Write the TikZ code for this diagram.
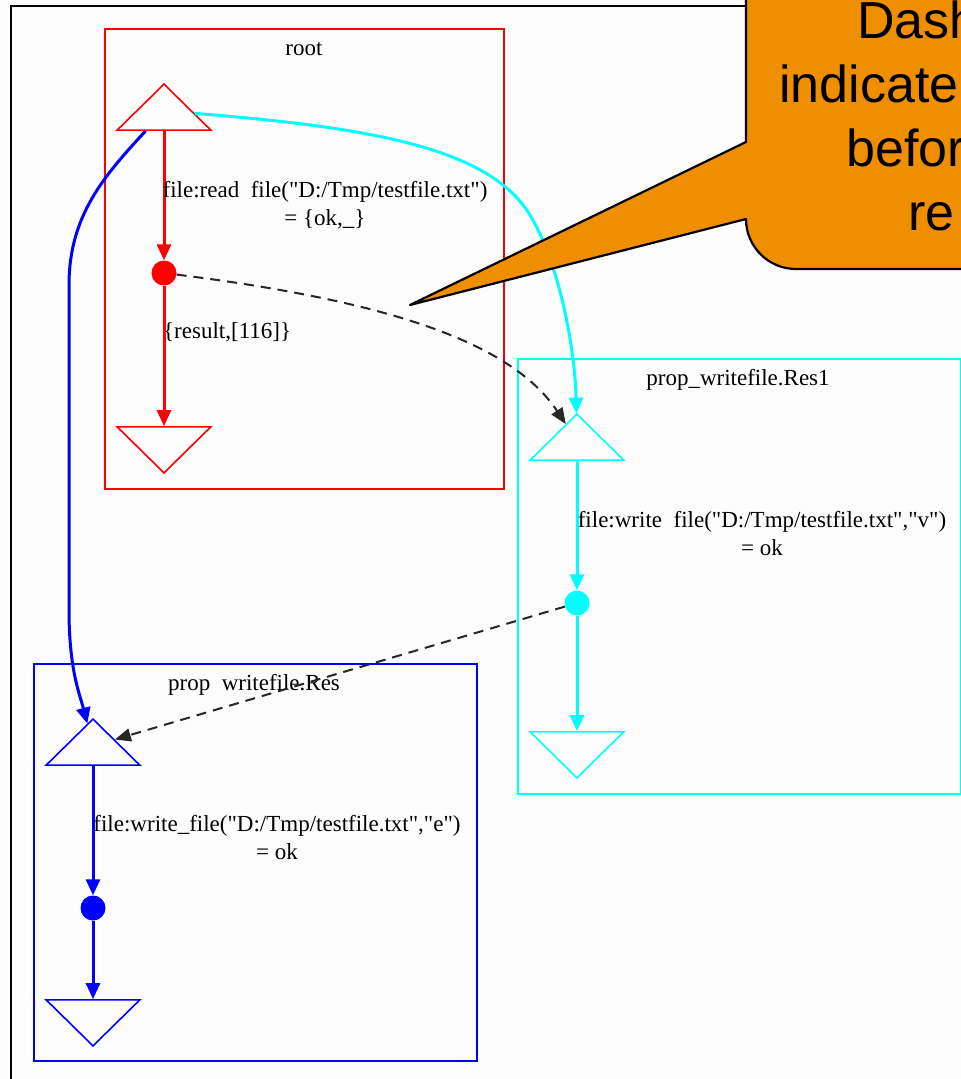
\documentclass[tikz,border=0pt]{standalone}
\usepackage{fontspec}
\setmainfont{Liberation Serif}[Ligatures=TeXOff]
\newfontfamily\notefont{Liberation Sans}
\usetikzlibrary{shapes.geometric,arrows.meta}
\definecolor{noteorange}{RGB}{239,143,0}
\definecolor{paper}{RGB}{251,252,251}
\definecolor{procred}{RGB}{255,0,0}
\definecolor{proccyan}{RGB}{0,255,255}
\definecolor{procblue}{RGB}{0,0,255}

\begin{document}
\begin{tikzpicture}[x=1pt, y=-1pt,
    uptri/.style={draw=#1, line width=1.6pt, isosceles triangle, isosceles triangle apex angle=91,
      shape border rotate=90, inner sep=0pt, minimum size=46pt, anchor=apex},
    downtri/.style={uptri=#1, shape border rotate=270},
    event/.style={circle, fill=#1, inner sep=0pt, minimum size=25pt},
    flow/.style={draw=#1, line width=3pt, -{Triangle[length=16pt,width=14pt]}},
    waitfor/.style={draw=black!85, line width=2pt, dash pattern=on 10pt off 7pt,
      -{Triangle[length=16pt,width=13pt]}},
    cluster/.style={draw=#1, line width=1.6pt, inner sep=0pt, anchor=north west},
    lbl/.style={font=\fontsize{23}{28}\selectfont, inner sep=0pt, align=center},
    notetext/.style={font=\notefont\fontsize{52}{64}\selectfont, inner sep=0pt, anchor=base west},
  ]
    \path[use as bounding box, fill=paper] (0,0) rectangle (961,1079);
    \clip (0,0) rectangle (961,1079);
    \draw[line width=2.5pt] (11,1090) -- (11,6) -- (975,6);

    % clusters
    \node[cluster=procred, minimum width=399pt, minimum height=460pt] (rootbox) at (104,28) {};
    \node[cluster=proccyan, minimum width=443pt, minimum height=435pt] (res1box) at (517,358) {};
    \node[cluster=procblue, minimum width=443pt, minimum height=397pt] (resbox) at (33,663) {};
    \node[lbl] (roottitle) at (304,49) {root};
    \node[lbl] (res1title) at (738,380) {prop\_writefile.Res1};
    \node[lbl] (restitle) at (254,685) {prop\ \ writefile.Res};

    % processes
    \node[uptri=procred] (rtop) at (164,83) {};
    \node[event=procred] (rread) at (164,273) {};
    \node[downtri=procred] (rbot) at (164,474) {};
    \node[uptri=proccyan] (ctop) at (577,413) {};
    \node[event=proccyan] (cwrite) at (577,603) {};
    \node[downtri=proccyan] (cbot) at (577,779) {};
    \node[uptri=procblue] (btop) at (93,718) {};
    \node[event=procblue] (bwrite) at (93,908) {};
    \node[downtri=procblue] (bbot) at (93,1047) {};

    \draw[flow=procred] (rtop) -- (rread);
    \draw[flow=procred] (rread) -- (rbot);
    \draw[flow=proccyan] (ctop) -- (cwrite);
    \draw[flow=proccyan] (cwrite) -- (cbot);
    \draw[flow=procblue] (btop) -- (bwrite);
    \draw[flow=procblue] (bwrite) -- (bbot);

    \node[lbl] (readlbl) at (325,205) {file:read\ \ file("D:/Tmp/testfile.txt")\\= \{ok,\_\}};
    \node[lbl, anchor=west] (resultlbl) at (163,332) {\{result,[116]\}};
    \node[lbl] (writevlbl) at (762,534) {file:write\ \ file("D:/Tmp/testfile.txt","v")\\= ok};
    \node[lbl] (writeelbl) at (277,838) {file:write\_file("D:/Tmp/testfile.txt","e")\\= ok};

    % spawns and waits
    \draw[flow=procblue] (rtop) .. controls (105,175) and (69,215) .. (69,285) -- (69,610)
      .. controls (69,670) and (80,695) .. (btop);
    \draw[flow=proccyan] (rtop) .. controls (380,128) and (490,150) .. (530,215)
      .. controls (560,265) and (575,350) .. (ctop);
    \draw[waitfor] (rread) .. controls (380,300) and (510,340) .. (ctop);
    \draw[waitfor] (cwrite) -- (btop);

    % callout
    \draw[line width=2.2pt, line join=round, fill=noteorange] (746,-30) -- (746,142) -- (410,305)
      -- (746,219) arc[start angle=180, end angle=90, radius=50] -- (990,269) -- (990,-30) -- cycle;
    \node[notetext] (note1) at (857,38) {Dash};
    \node[notetext] (note2) at (779,102) {indicate};
    \node[notetext] (note3) at (846,166) {befor};
    \node[notetext] (note4) at (908,230) {re};
\end{tikzpicture}
\end{document}
